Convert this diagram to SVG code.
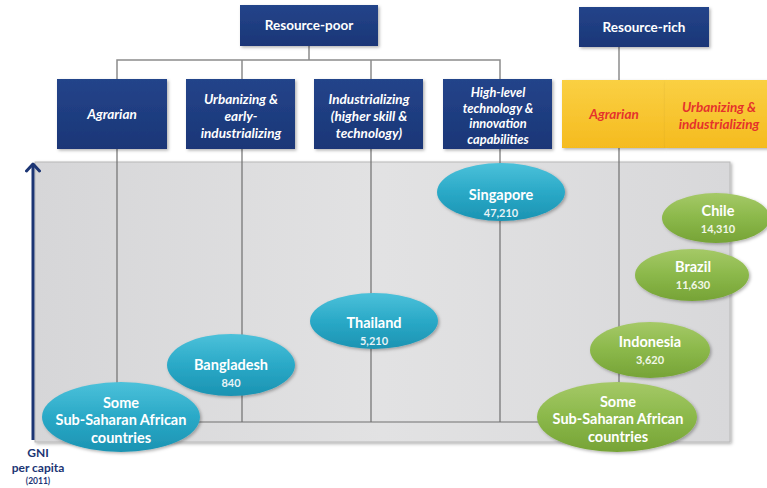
<svg xmlns="http://www.w3.org/2000/svg" width="767" height="488" viewBox="0 0 767 488">
<defs>
<linearGradient id="panel" x1="0" y1="0" x2="1" y2="0">
<stop offset="0" stop-color="#d6d6d8"/><stop offset="0.5" stop-color="#e2e2e3"/><stop offset="1" stop-color="#d8d8da"/>
</linearGradient>
<linearGradient id="navy" x1="0" y1="0" x2="0" y2="1">
<stop offset="0" stop-color="#23448a"/><stop offset="1" stop-color="#1b3677"/>
</linearGradient>
<linearGradient id="yel" x1="0" y1="0" x2="0" y2="1">
<stop offset="0" stop-color="#fad043"/><stop offset="1" stop-color="#f5bb1f"/>
</linearGradient>
<linearGradient id="blue" x1="0" y1="0" x2="0" y2="1">
<stop offset="0" stop-color="#4cc1da"/><stop offset="0.5" stop-color="#2aa9c7"/><stop offset="1" stop-color="#1b93b2"/>
</linearGradient>
<linearGradient id="green" x1="0" y1="0" x2="0" y2="1">
<stop offset="0" stop-color="#a5c967"/><stop offset="0.5" stop-color="#8bb84a"/><stop offset="1" stop-color="#76a336"/>
</linearGradient>
<filter id="sh" x="-10%" y="-10%" width="130%" height="130%">
<feDropShadow dx="1.5" dy="1.5" stdDeviation="1.5" flood-color="#000" flood-opacity="0.3"/>
</filter>
<marker id="arr" markerWidth="16" markerHeight="16" refX="10" refY="8" orient="auto" markerUnits="userSpaceOnUse" viewBox="0 0 16 16">
<path d="M3,1.5 L10,8 L3,14.5" fill="none" stroke="#1c3574" stroke-width="3" stroke-linecap="round" stroke-linejoin="round"/>
</marker>
</defs>
<style>
.box{fill:url(#navy);filter:url(#sh)}
.ybox{fill:url(#yel);filter:url(#sh)}
.t{font-family:Lato,"Open Sans","Liberation Sans",sans-serif;fill:#fff;text-anchor:middle}
.top{font-size:13.5px;font-weight:700}
.it{font-size:13.5px;font-weight:700;font-style:italic}
.it4{font-size:12.8px;font-weight:700;font-style:italic}
.red{fill:#e5322c}
.en{font-size:14.5px;font-weight:700}
.num{font-size:11px;font-weight:700;fill:#e6f3f7}
.gnum{font-size:11px;font-weight:700;fill:#f2f7e8}
.conn{fill:none;stroke:#8c8c8c;stroke-width:1.5}
.in{fill:none;stroke:#707070;stroke-width:1.2}
.eb{fill:url(#blue);filter:url(#sh)}
.eg{fill:url(#green);filter:url(#sh)}
.ax{font-family:Lato,"Open Sans","Liberation Sans",sans-serif;fill:#1c3574;text-anchor:middle;font-weight:700}
</style>

<rect id="panel-bg" x="35" y="162" width="695" height="280" fill="url(#panel)" stroke="#b8b8b8" stroke-width="1" filter="url(#sh)"/>

<g id="connectors">
<path class="conn" d="M309,46 V60 M117,79 V60 H500 V79 M242,60 V79 M371,60 V79"/>
<path class="conn" d="M619,47 V80"/>
<path class="in" d="M117,149 V422 M242,149 V422 M371,149 V422 M500,149 V422 M619,148 V422 M117,422 H619"/>
<path d="M33,440 V164" fill="none" stroke="#1c3574" stroke-width="3" marker-end="url(#arr)"/>
</g>

<g id="resource-poor"><rect class="box" x="240" y="5" width="138" height="41"/><text class="t top" x="309" y="30">Resource-poor</text></g>
<g id="resource-rich"><rect class="box" x="579" y="7" width="130" height="40"/><text class="t top" x="644" y="32">Resource-rich</text></g>

<g id="agrarian-poor"><rect class="box" x="57" y="79" width="110" height="70"/><text class="t it" x="112" y="119">Agrarian</text></g>
<g id="urbanizing-poor"><rect class="box" x="186" y="79" width="109" height="70"/><text class="t it" x="241" y="104">Urbanizing &amp;</text><text class="t it" x="241" y="121">early-</text><text class="t it" x="241" y="138">industrializing</text></g>
<g id="industrializing"><rect class="box" x="314" y="79" width="109" height="70"/><text class="t it" x="369" y="104">Industrializing</text><text class="t it" x="369" y="121">(higher skill &amp;</text><text class="t it" x="369" y="138">technology)</text></g>
<g id="high-level"><rect class="box" x="443" y="79" width="109" height="70"/><text class="t it4" x="498" y="97">High-level</text><text class="t it4" x="498" y="112.5">technology &amp;</text><text class="t it4" x="498" y="128">innovation</text><text class="t it4" x="498" y="143.5">capabilities</text></g>
<g id="agrarian-rich"><rect class="ybox" x="562" y="80" width="103" height="68"/><text class="t it red" x="614" y="119">Agrarian</text></g>
<g id="urbanizing-rich"><rect class="ybox" x="665" y="80" width="104" height="68"/><text class="t it red" x="719" y="112">Urbanizing &amp;</text><text class="t it red" x="719" y="129">industrializing</text></g>

<g id="ssa-poor"><ellipse class="eb" cx="121" cy="417" rx="79" ry="35"/><text class="t en" x="121" y="407.5">Some</text><text class="t en" x="121" y="425">Sub-Saharan African</text><text class="t en" x="121" y="442.5">countries</text></g>
<g id="bangladesh"><ellipse class="eb" cx="231" cy="365" rx="64" ry="31"/><text class="t en" x="231" y="370">Bangladesh</text><text class="t num" x="231" y="387">840</text></g>
<g id="thailand"><ellipse class="eb" cx="374" cy="321" rx="64" ry="28"/><text class="t en" x="374" y="328">Thailand</text><text class="t num" x="374" y="345">5,210</text></g>
<g id="singapore"><ellipse class="eb" cx="501" cy="192" rx="64" ry="29"/><text class="t en" x="501" y="200">Singapore</text><text class="t num" x="501" y="217">47,210</text></g>
<g id="chile"><ellipse class="eg" cx="716" cy="218" rx="54" ry="25"/><text class="t en" x="718" y="216">Chile</text><text class="t gnum" x="718" y="233">14,310</text></g>
<g id="brazil"><ellipse class="eg" cx="692" cy="275" rx="57" ry="26"/><text class="t en" x="693" y="272">Brazil</text><text class="t gnum" x="693" y="289">11,630</text></g>
<g id="indonesia"><ellipse class="eg" cx="650" cy="350" rx="60" ry="28"/><text class="t en" x="650" y="347">Indonesia</text><text class="t gnum" x="650" y="364">3,620</text></g>
<g id="ssa-rich"><ellipse class="eg" cx="617" cy="417" rx="80" ry="35"/><text class="t en" x="618" y="406.5">Some</text><text class="t en" x="618" y="424">Sub-Saharan African</text><text class="t en" x="618" y="441.5">countries</text></g>

<g id="axis-label"><text class="ax" x="38" y="457" font-size="12">GNI</text><text class="ax" x="38" y="472" font-size="12">per capita</text><text class="ax" x="38" y="484" font-size="8.5">(2011)</text></g>
</svg>
